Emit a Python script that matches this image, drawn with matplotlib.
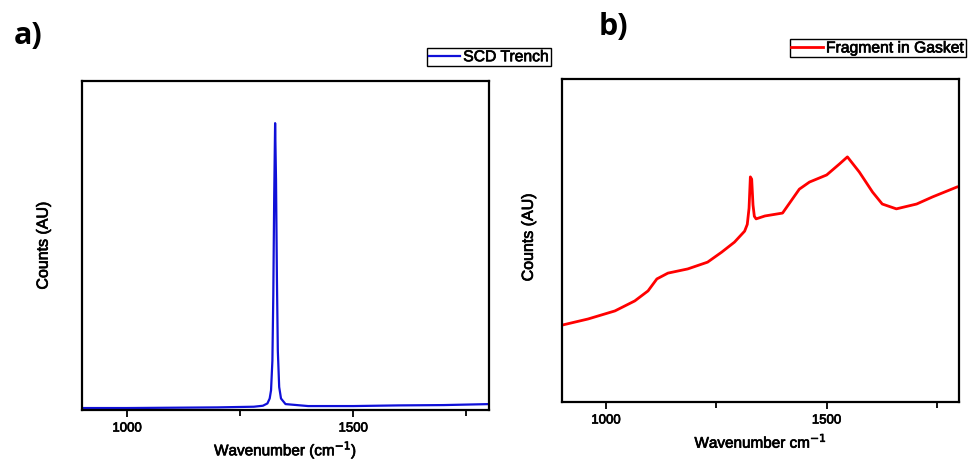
import matplotlib
matplotlib.use("Agg")
import matplotlib.pyplot as plt
import matplotlib.patheffects as pe
from matplotlib.ticker import FixedLocator

plt.rcParams["font.family"] = ["Liberation Sans", "DejaVu Sans"]

# a) SCD trench spectrum (arbitrary units)
wn_a = [900, 1000, 1100, 1200, 1280, 1300, 1310, 1315, 1318, 1321, 1323, 1325,
        1327, 1329, 1331, 1333, 1336, 1340, 1350, 1400, 1500, 1600, 1700, 1800]
counts_a = [0.006, 0.006, 0.007, 0.008, 0.010, 0.013, 0.020, 0.035, 0.060, 0.150,
            0.350, 0.650, 0.872, 0.700, 0.400, 0.180, 0.070, 0.035, 0.018, 0.012,
            0.012, 0.014, 0.015, 0.018]

# b) fragment in gasket spectrum
wn_b = [900, 959, 1020, 1065, 1095, 1115, 1140, 1185, 1230, 1262, 1291, 1314,
        1320, 1324, 1327, 1330, 1333, 1336, 1340, 1360, 1400, 1438, 1461, 1500,
        1529, 1547, 1574, 1604, 1626, 1658, 1704, 1740, 1796, 1800]
counts_b = [0.238, 0.257, 0.282, 0.313, 0.344, 0.381, 0.399, 0.412, 0.433, 0.464,
            0.495, 0.529, 0.550, 0.600, 0.697, 0.690, 0.610, 0.575, 0.567, 0.576,
            0.585, 0.659, 0.681, 0.703, 0.737, 0.759, 0.712, 0.650, 0.613, 0.598,
            0.613, 0.635, 0.666, 0.667]

major_ticks = [1000, 1500]
minor_ticks = [1250, 1750]

# slightly heavier text, like the original export
heavy = [pe.withStroke(linewidth=0.5, foreground="black")]

fig = plt.figure(figsize=(9.68, 4.64), dpi=100)
ax_a = fig.add_axes([0.0847, 0.1142, 0.4205, 0.709])
ax_b = fig.add_axes([0.5806, 0.1315, 0.4101, 0.696])

ax_a.plot(wn_a, counts_a, color="#1010d8", lw=1.6, label="SCD Trench")
ax_b.plot(wn_b, counts_b, color="#ff0000", lw=2.0, label="Fragment in Gasket")

for ax in (ax_a, ax_b):
    ax.set_xlim(900, 1800)
    ax.set_ylim(0, 1)
    ax.set_yticks([])
    ax.xaxis.set_major_locator(FixedLocator(major_ticks))
    ax.xaxis.set_minor_locator(FixedLocator(minor_ticks))
    ax.tick_params(axis="x", which="major", direction="out", length=5, width=1.3,
                   labelsize=9.5, pad=4)
    ax.tick_params(axis="x", which="minor", direction="out", length=4, width=1.3)
    for s in ax.spines.values():
        s.set_linewidth(1.6)
    for t in ax.get_xticklabels():
        t.set_path_effects(heavy)
    ax.set_ylabel("Counts (AU)", fontsize=11.5, path_effects=heavy)

ax_a.yaxis.set_label_coords(-0.077, 0.5)
ax_b.yaxis.set_label_coords(-0.066, 0.51)

ax_a.set_xlabel("Wavenumber (cm$^{-1}$)", fontsize=11, labelpad=3, path_effects=heavy)
ax_b.set_xlabel("Wavenumber cm$^{-1}$", fontsize=11, labelpad=4, path_effects=heavy)

leg_kw = dict(fancybox=False, edgecolor="black", framealpha=1, fontsize=11.3,
              handlelength=2.0, handletextpad=0.2, borderpad=0.1,
              borderaxespad=0, bbox_transform=fig.transFigure)
la = ax_a.legend(loc="lower right", bbox_to_anchor=(0.569, 0.856), **leg_kw)
lb = ax_b.legend(loc="lower left", bbox_to_anchor=(0.816, 0.875), **leg_kw)
for lg in (la, lb):
    lg.get_frame().set_linewidth(1.0)
    for t in lg.get_texts():
        t.set_path_effects(heavy)

fig.text(0.014, 0.905, "a)", fontsize=22, fontweight="bold", family="Open Sans")
fig.text(0.618, 0.925, "b)", fontsize=22, fontweight="bold", family="Open Sans")

fig.savefig("out.png", dpi=100)
